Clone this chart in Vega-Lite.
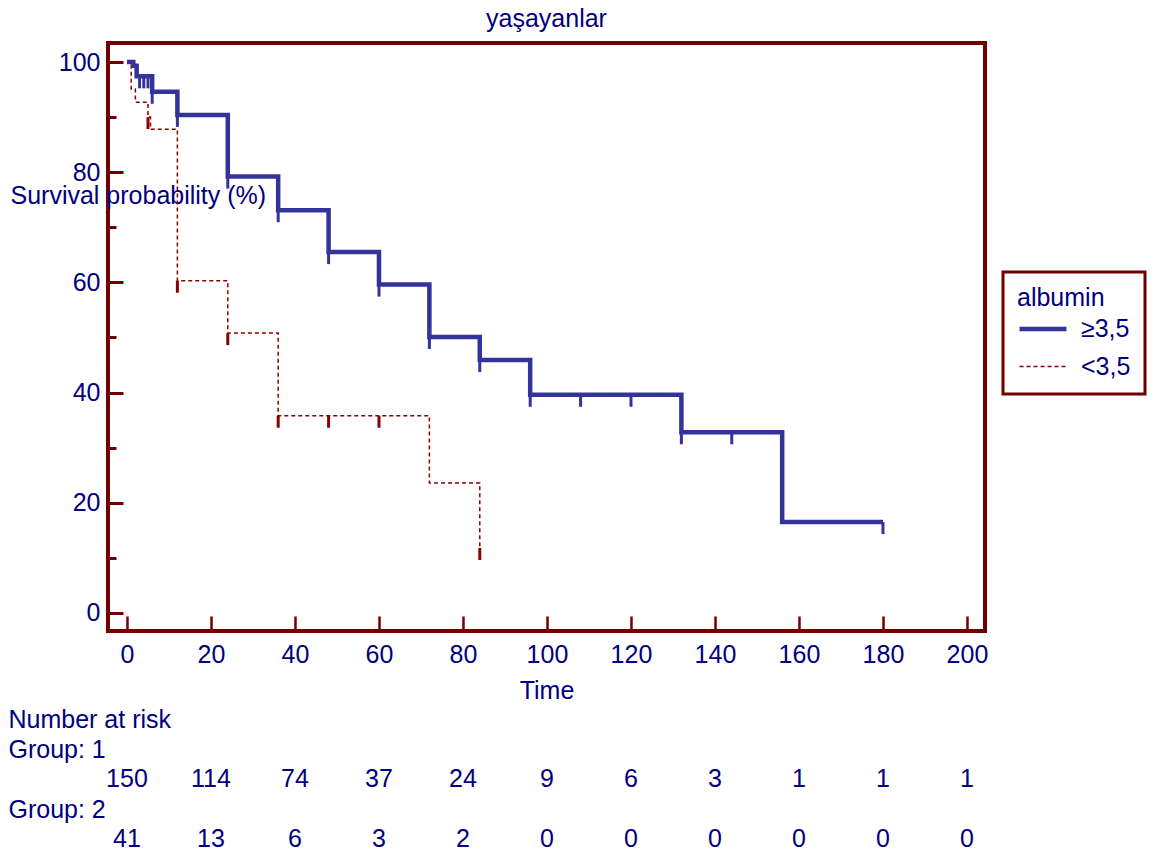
{
  "$schema": "https://vega.github.io/schema/vega-lite/v6.json",
  "autosize": {"type": "pad"},
  "padding": {"left": 8, "top": 7, "right": 5, "bottom": 5},
  "background": "white",
  "config": {
    "font": "Liberation Sans",
    "axis": {"grid": false},
    "concat": {"spacing": 73}
  },
  "title": {
    "text": "yaşayanlar",
    "fontSize": 25,
    "font": "Liberation Sans",
    "fontWeight": "normal",
    "color": "#000080",
    "anchor": "middle",
    "frame": "group",
    "offset": 9
  },
  "datasets": {
    "curves": [
      {"group": "<3,5", "t": 0, "S": 100},
      {"group": "<3,5", "t": 1, "S": 95.1},
      {"group": "<3,5", "t": 2, "S": 92.7},
      {"group": "<3,5", "t": 5, "S": 90.0},
      {"group": "<3,5", "t": 5.6, "S": 87.8},
      {"group": "<3,5", "t": 12, "S": 60.3},
      {"group": "<3,5", "t": 24, "S": 50.8},
      {"group": "<3,5", "t": 36, "S": 35.8},
      {"group": "<3,5", "t": 72, "S": 23.6},
      {"group": "<3,5", "t": 84, "S": 11.8},
      {"group": "≥3,5", "t": 0, "S": 100},
      {"group": "≥3,5", "t": 1.5, "S": 99.3},
      {"group": "≥3,5", "t": 2.3, "S": 97.4},
      {"group": "≥3,5", "t": 6, "S": 94.6},
      {"group": "≥3,5", "t": 12, "S": 90.4},
      {"group": "≥3,5", "t": 24, "S": 79.2},
      {"group": "≥3,5", "t": 36, "S": 73.1},
      {"group": "≥3,5", "t": 48, "S": 65.5},
      {"group": "≥3,5", "t": 60, "S": 59.6},
      {"group": "≥3,5", "t": 72, "S": 50.1},
      {"group": "≥3,5", "t": 84, "S": 45.9},
      {"group": "≥3,5", "t": 96, "S": 39.6},
      {"group": "≥3,5", "t": 132, "S": 32.8},
      {"group": "≥3,5", "t": 156, "S": 16.5},
      {"group": "≥3,5", "t": 180, "S": 16.5}
    ],
    "censors": [
      {"group": "<3,5", "t": 5, "S": 90.0},
      {"group": "<3,5", "t": 12, "S": 60.3},
      {"group": "<3,5", "t": 24, "S": 50.8},
      {"group": "<3,5", "t": 36, "S": 35.8},
      {"group": "<3,5", "t": 48, "S": 35.8},
      {"group": "<3,5", "t": 60, "S": 35.8},
      {"group": "<3,5", "t": 84, "S": 11.8},
      {"group": "≥3,5", "t": 3, "S": 97.4},
      {"group": "≥3,5", "t": 4, "S": 97.4},
      {"group": "≥3,5", "t": 5, "S": 97.4},
      {"group": "≥3,5", "t": 6, "S": 94.6},
      {"group": "≥3,5", "t": 12, "S": 90.4},
      {"group": "≥3,5", "t": 24, "S": 79.2},
      {"group": "≥3,5", "t": 36, "S": 73.1},
      {"group": "≥3,5", "t": 48, "S": 65.5},
      {"group": "≥3,5", "t": 60, "S": 59.6},
      {"group": "≥3,5", "t": 72, "S": 50.1},
      {"group": "≥3,5", "t": 84, "S": 45.9},
      {"group": "≥3,5", "t": 96, "S": 39.6},
      {"group": "≥3,5", "t": 108, "S": 39.6},
      {"group": "≥3,5", "t": 120, "S": 39.6},
      {"group": "≥3,5", "t": 132, "S": 32.8},
      {"group": "≥3,5", "t": 144, "S": 32.8},
      {"group": "≥3,5", "t": 180, "S": 16.5}
    ],
    "risk": [
      {"row": "g1", "t": 0, "n": 150},
      {"row": "g1", "t": 20, "n": 114},
      {"row": "g1", "t": 40, "n": 74},
      {"row": "g1", "t": 60, "n": 37},
      {"row": "g1", "t": 80, "n": 24},
      {"row": "g1", "t": 100, "n": 9},
      {"row": "g1", "t": 120, "n": 6},
      {"row": "g1", "t": 140, "n": 3},
      {"row": "g1", "t": 160, "n": 1},
      {"row": "g1", "t": 180, "n": 1},
      {"row": "g1", "t": 200, "n": 1},
      {"row": "g2", "t": 0, "n": 41},
      {"row": "g2", "t": 20, "n": 13},
      {"row": "g2", "t": 40, "n": 6},
      {"row": "g2", "t": 60, "n": 3},
      {"row": "g2", "t": 80, "n": 2},
      {"row": "g2", "t": 100, "n": 0},
      {"row": "g2", "t": 120, "n": 0},
      {"row": "g2", "t": 140, "n": 0},
      {"row": "g2", "t": 160, "n": 0},
      {"row": "g2", "t": 180, "n": 0},
      {"row": "g2", "t": 200, "n": 0}
    ]
  },
  "bounds": "flush",
  "resolve": {"scale": {"x": "independent", "y": "independent"}},
  "vconcat": [
    {
      "width": 877,
      "height": 588,
      "view": {"stroke": "#700000", "strokeWidth": 4},
      "resolve": {"axis": {"y": "independent"}},
      "layer": [
        {
          "data": {"name": "curves"},
          "mark": {"type": "line", "interpolate": "step-after"},
          "encoding": {
            "x": {
              "field": "t", "type": "quantitative",
              "scale": {"domain": [-4.52, 204.29], "nice": false, "zero": false},
              "axis": {
                "values": [0, 20, 40, 60, 80, 100, 120, 140, 160, 180, 200],
                "title": "Time", "domain": false,
                "tickSize": -15, "tickWidth": 2.5, "tickColor": "#700000",
                "labelFontSize": 25, "labelColor": "#000080", "labelPadding": 26,
                "labelFlush": false,
                "titleFontSize": 25, "titleColor": "#000080", "titleFontWeight": "normal", "titlePadding": 11
              }
            },
            "y": {
              "field": "S", "type": "quantitative",
              "scale": {"domain": [-3.27, 103.45], "nice": false, "zero": false},
              "axis": {
                "orient": "left",
                "values": [0, 20, 40, 60, 80, 100],
                "title": "Survival probability (%)", "domain": false,
                "tickSize": -15, "tickWidth": 3, "tickColor": "#700000",
                "labelFontSize": 25, "labelColor": "#000080", "labelPadding": 23,
                "labelFlush": false, "labelBaseline": "middle",
                "titleFontSize": 25, "titleColor": "#000080", "titleFontWeight": "normal",
                "titleAngle": 0, "titleAlign": "left", "titleBaseline": "middle",
                "titleX": -98, "titleY": 152
              }
            },
            "color": {
              "field": "group", "type": "nominal",
              "scale": {"domain": ["≥3,5", "<3,5"], "range": ["#333399", "#8B0000"]},
              "legend": {
                "title": "albumin", "orient": "none", "legendX": 895, "legendY": 229,
                "symbolType": "stroke", "symbolSize": 2200,
                "padding": 14, "strokeColor": "#700000",
                "titleFontSize": 25, "titleColor": "#000080", "titleFontWeight": "normal",
                "labelFontSize": 25, "labelColor": "#000080", "labelOffset": 12,
                "rowPadding": -13, "titlePadding": -8,
                "encode": {"legend": {"update": {"strokeWidth": {"value": 3}}}}
              }
            },
            "strokeDash": {
              "field": "group", "type": "nominal",
              "scale": {"domain": ["≥3,5", "<3,5"], "range": [[1, 0], [4, 3]]},
              "legend": {
                "title": "albumin", "orient": "none", "legendX": 895, "legendY": 229,
                "symbolType": "stroke", "symbolSize": 2200,
                "padding": 14, "strokeColor": "#700000",
                "titleFontSize": 25, "titleColor": "#000080", "titleFontWeight": "normal",
                "labelFontSize": 25, "labelColor": "#000080", "labelOffset": 12,
                "rowPadding": -13, "titlePadding": -8,
                "encode": {"legend": {"update": {"strokeWidth": {"value": 3}}}}
              }
            },
            "strokeWidth": {
              "field": "group", "type": "nominal",
              "scale": {"domain": ["≥3,5", "<3,5"], "range": [4.5, 1.5]},
              "legend": {
                "title": "albumin", "orient": "none", "legendX": 895, "legendY": 229,
                "symbolType": "stroke", "symbolSize": 2200,
                "padding": 14, "strokeColor": "#700000",
                "titleFontSize": 25, "titleColor": "#000080", "titleFontWeight": "normal",
                "labelFontSize": 25, "labelColor": "#000080", "labelOffset": 12,
                "rowPadding": -13, "titlePadding": -8,
                "encode": {"legend": {"update": {"strokeWidth": {"value": 3}}}}
              }
            }
          }
        },
        {
          "data": {"name": "censors"},
          "mark": {"type": "tick", "orient": "vertical", "size": 12, "thickness": 3, "yOffset": 6, "opacity": 1},
          "encoding": {
            "x": {"field": "t", "type": "quantitative"},
            "y": {
              "field": "S", "type": "quantitative",
              "axis": {
                "orient": "left",
                "values": [10, 30, 50, 70, 90],
                "title": null, "domain": false, "labels": false,
                "tickSize": -8, "tickWidth": 3, "tickColor": "#700000"
              }
            },
            "color": {"field": "group", "type": "nominal", "legend": null}
          }
        }
      ]
    },
    {
      "width": 877,
      "height": 150,
      "view": {"stroke": null},
      "data": {"name": "risk"},
      "mark": {"type": "text", "fontSize": 25, "color": "#000080", "align": "center", "baseline": "middle"},
      "encoding": {
        "x": {
          "field": "t", "type": "quantitative",
          "scale": {"domain": [-4.52, 204.29], "nice": false, "zero": false},
          "axis": null
        },
        "y": {
          "field": "row", "type": "ordinal",
          "scale": {"type": "point", "domain": ["Number at risk", "Group: 1", "g1", "Group: 2", "g2"], "padding": 0.5},
          "axis": {
            "orient": "left", "title": null, "domain": false, "ticks": false,
            "labelAlign": "left", "labelBaseline": "middle", "labelPadding": 100,
            "labelFontSize": 25, "labelColor": "#000080", "labelLimit": 0, "labelOverlap": false,
            "labelExpr": "datum.value == 'g1' || datum.value == 'g2' ? '' : datum.value"
          }
        },
        "text": {"field": "n", "type": "quantitative"}
      }
    }
  ]
}
